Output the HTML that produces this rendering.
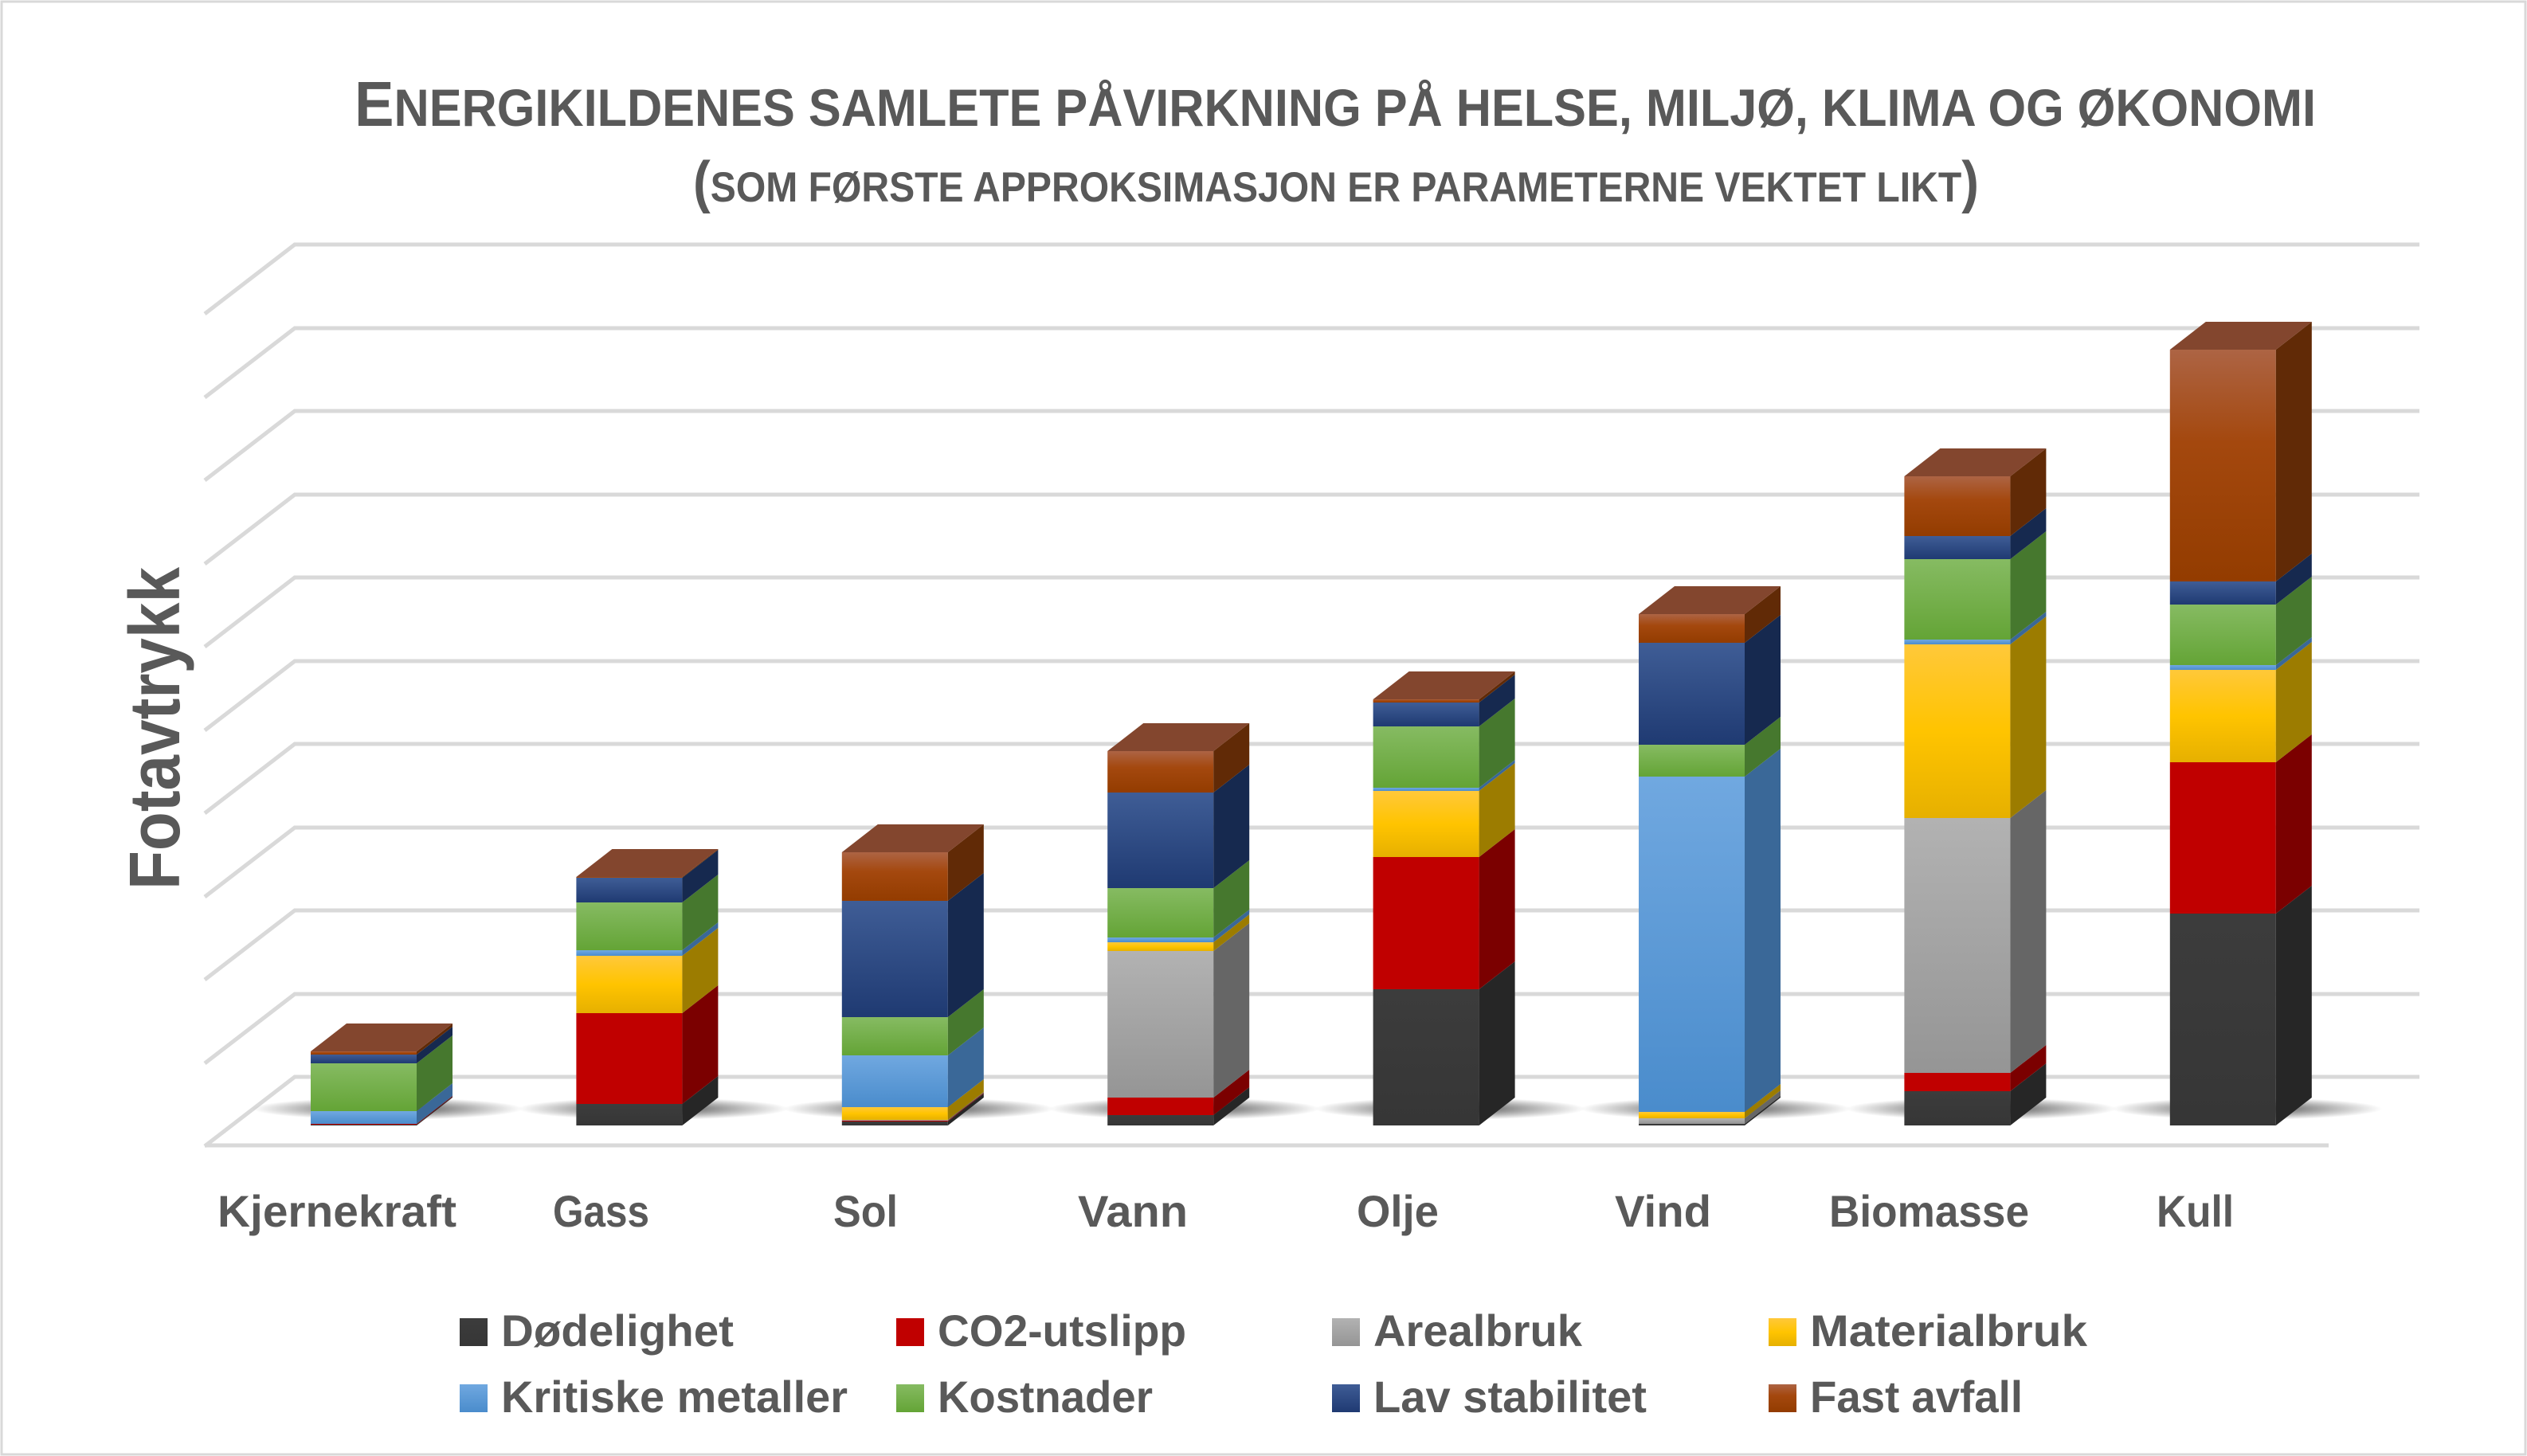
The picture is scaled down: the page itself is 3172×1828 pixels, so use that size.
<!DOCTYPE html>
<html><head><meta charset="utf-8"><style>
html,body{margin:0;padding:0;background:#fff;}
svg{display:block;}
text{font-family:"Liberation Sans",sans-serif;font-weight:bold;fill:#595959;}
</style></head><body>
<svg id="s" width="3172" height="1828" viewBox="0 0 3172 1828" xmlns="http://www.w3.org/2000/svg">
<defs>
<linearGradient id="g0" x1="0" y1="0" x2="0" y2="1"><stop offset="0" stop-color="#3c3c3c"/><stop offset="1" stop-color="#363636"/></linearGradient>
<linearGradient id="g1" x1="0" y1="0" x2="0" y2="1"><stop offset="0" stop-color="#c00000"/><stop offset="1" stop-color="#c00000"/></linearGradient>
<linearGradient id="g2" x1="0" y1="0" x2="0" y2="1"><stop offset="0" stop-color="#b2b2b2"/><stop offset="1" stop-color="#959595"/></linearGradient>
<linearGradient id="g3" x1="0" y1="0" x2="0" y2="1"><stop offset="0" stop-color="#ffc83a"/><stop offset="0.5" stop-color="#ffc400"/><stop offset="1" stop-color="#e6b000"/></linearGradient>
<linearGradient id="g4" x1="0" y1="0" x2="0" y2="1"><stop offset="0" stop-color="#70a8e0"/><stop offset="1" stop-color="#4a8ccc"/></linearGradient>
<linearGradient id="g5" x1="0" y1="0" x2="0" y2="1"><stop offset="0" stop-color="#86bb62"/><stop offset="1" stop-color="#64a436"/></linearGradient>
<linearGradient id="g6" x1="0" y1="0" x2="0" y2="1"><stop offset="0" stop-color="#3f5d96"/><stop offset="1" stop-color="#1f3a72"/></linearGradient>
<linearGradient id="g7" x1="0" y1="0" x2="0" y2="1"><stop offset="0" stop-color="#ad6444"/><stop offset="0.4" stop-color="#a4480e"/><stop offset="1" stop-color="#933c00"/></linearGradient>
<radialGradient id="sh" cx="0.5" cy="0.5" r="0.5"><stop offset="0" stop-color="#000" stop-opacity="0.75"/><stop offset="0.6" stop-color="#000" stop-opacity="0.3"/><stop offset="1" stop-color="#000" stop-opacity="0"/></radialGradient>
</defs>
<rect x="0" y="0" width="3172" height="1828" fill="#fff"/>
<rect x="2" y="2" width="3168" height="1824" fill="none" stroke="#d9d9d9" stroke-width="3"/>
<g id="grid" stroke="#d9d9d9" stroke-width="5" fill="none"></g>
<g id="bars"></g>
<text x="445" y="158" font-size="80" textLength="2462" lengthAdjust="spacingAndGlyphs">E<tspan font-size="66">NERGIKILDENES SAMLETE PÅVIRKNING PÅ HELSE, MILJØ, KLIMA OG ØKONOMI</tspan></text>
<text x="870" y="253" font-size="53" textLength="1614" lengthAdjust="spacingAndGlyphs"><tspan font-size="72">(</tspan>SOM FØRSTE APPROKSIMASJON ER PARAMETERNE VEKTET LIKT<tspan font-size="72">)</tspan></text>
<text transform="translate(225,1117) rotate(-90)" x="0" y="0" font-size="90" textLength="405" lengthAdjust="spacingAndGlyphs">Fotavtrykk</text>
<g font-size="56">
<text x="273" y="1540" textLength="300" lengthAdjust="spacingAndGlyphs">Kjernekraft</text>
<text x="694" y="1540" textLength="121" lengthAdjust="spacingAndGlyphs">Gass</text>
<text x="1046" y="1540" textLength="81" lengthAdjust="spacingAndGlyphs">Sol</text>
<text x="1353" y="1540" textLength="138" lengthAdjust="spacingAndGlyphs">Vann</text>
<text x="1703" y="1540" textLength="103" lengthAdjust="spacingAndGlyphs">Olje</text>
<text x="2027" y="1540" textLength="121" lengthAdjust="spacingAndGlyphs">Vind</text>
<text x="2296" y="1540" textLength="251" lengthAdjust="spacingAndGlyphs">Biomasse</text>
<text x="2707" y="1540" textLength="97" lengthAdjust="spacingAndGlyphs">Kull</text>
</g>
<g>
<rect x="577" y="1655" width="35" height="35" fill="url(#g0)"/>
<rect x="1125" y="1655" width="35" height="35" fill="url(#g1)"/>
<rect x="1672" y="1655" width="35" height="35" fill="url(#g2)"/>
<rect x="2220" y="1655" width="35" height="35" fill="url(#g3)"/>
<rect x="577" y="1738" width="35" height="35" fill="url(#g4)"/>
<rect x="1125" y="1738" width="35" height="35" fill="url(#g5)"/>
<rect x="1672" y="1738" width="35" height="35" fill="url(#g6)"/>
<rect x="2220" y="1738" width="35" height="35" fill="url(#g7)"/>
</g>
<g font-size="56">
<text x="629" y="1690" textLength="292" lengthAdjust="spacingAndGlyphs">Dødelighet</text>
<text x="1177" y="1690" textLength="312" lengthAdjust="spacingAndGlyphs">CO2-utslipp</text>
<text x="1724" y="1690" textLength="262" lengthAdjust="spacingAndGlyphs">Arealbruk</text>
<text x="2272" y="1690" textLength="348" lengthAdjust="spacingAndGlyphs">Materialbruk</text>
<text x="629" y="1773" textLength="435" lengthAdjust="spacingAndGlyphs">Kritiske metaller</text>
<text x="1177" y="1773" textLength="270" lengthAdjust="spacingAndGlyphs">Kostnader</text>
<text x="1724" y="1773" textLength="343" lengthAdjust="spacingAndGlyphs">Lav stabilitet</text>
<text x="2272" y="1773" textLength="267" lengthAdjust="spacingAndGlyphs">Fast avfall</text>
</g>
</svg>
<script>
var NS="http://www.w3.org/2000/svg";
function el(p,t,a){var e=document.createElementNS(NS,t);for(var k in a)e.setAttribute(k,a[k]);p.appendChild(e);return e;}
var grid=document.getElementById('grid');
var ys=[307,412,516,621,725,830,934,1039,1143,1248,1352];
ys.forEach(function(y){el(grid,'polyline',{points:"257,"+(y+87)+" 370,"+y+" 3037,"+y});});
el(grid,'line',{x1:257,y1:1438,x2:2923,y2:1438});
var bars=document.getElementById('bars');
var side=["#262626","#7b0000","#666666","#9c7c00","#3a6898","#46782e","#16294f","#612a06"];
var data=[
[1412,1411,1411,1411,1395,1335,1324,1320],
[1386,1272,1272,1200,1193,1133,1102,1101],
[1408,1407,1406,1390,1325,1277,1131,1070],
[1400,1378,1194,1183,1177,1115,995,943],
[1242,1076,1076,993,989,912,882,878],
[1411,1411,1404,1396,975,935,807,771],
[1370,1347,1027,809,803,702,673,598],
[1147,957,957,841,835,759,730,439]];
var W=133,DX=45,DY=35,B=1413;
for(var i=0;i<8;i++){var x0=390+333.4*i;
 el(bars,'ellipse',{cx:x0+W/2+30,cy:1392,rx:170,ry:14,fill:"url(#sh)"});}
for(var i=0;i<8;i++){
 var x0=390+333.4*i,x1=x0+W,prev=B,d=data[i];
 for(var j=0;j<8;j++){var t=d[j];if(prev-t<=0){continue;}
  el(bars,'rect',{x:x0,y:t,width:W,height:prev-t,fill:"url(#g"+j+")"});
  el(bars,'polygon',{points:x1+","+prev+" "+x1+","+t+" "+(x1+DX)+","+(t-DY)+" "+(x1+DX)+","+(prev-DY),fill:side[j]});
  prev=t;}
 var t=d[7];
 el(bars,'polygon',{points:x0+","+t+" "+x1+","+t+" "+(x1+DX)+","+(t-DY)+" "+(x0+DX)+","+(t-DY),fill:"#83462e"});
}
</script>
</body></html>
